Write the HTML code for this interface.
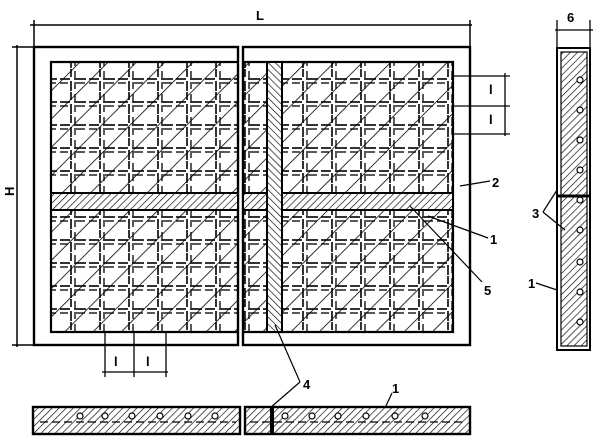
<!DOCTYPE html>
<html><head><meta charset="utf-8"><style>
html,body{margin:0;padding:0;background:#fff;}
svg{display:block;}
text{font-family:"Liberation Sans",sans-serif;font-weight:bold;font-size:13px;fill:#000;}
</style></head><body>
<svg width="605" height="446" viewBox="0 0 605 446" xmlns="http://www.w3.org/2000/svg">
<defs>
<pattern id="diag" width="20" height="20" patternUnits="userSpaceOnUse" patternTransform="rotate(45)">
<line x1="0" y1="0" x2="0" y2="20" stroke="#000" stroke-width="1.6"/>
</pattern>
<pattern id="grid" x="0" y="0" width="29" height="23" patternUnits="userSpaceOnUse">
<line x1="2" y1="10" x2="12" y2="10" stroke="#000" stroke-width="1.6"/>
<line x1="16" y1="10" x2="28" y2="10" stroke="#000" stroke-width="1.6"/>
<line x1="2" y1="14" x2="10" y2="14" stroke="#000" stroke-width="1.3"/>
<line x1="18" y1="14" x2="27" y2="14" stroke="#000" stroke-width="1.3"/>
<line x1="13" y1="0" x2="13" y2="8" stroke="#000" stroke-width="1.6"/>
<line x1="13" y1="12" x2="13" y2="22" stroke="#000" stroke-width="1.6"/>
<line x1="17" y1="2" x2="17" y2="9" stroke="#000" stroke-width="1.3"/>
<line x1="17" y1="13" x2="17" y2="20" stroke="#000" stroke-width="1.3"/>
</pattern>
<pattern id="fine" width="5" height="5" patternUnits="userSpaceOnUse" patternTransform="rotate(45)">
<line x1="0" y1="0" x2="0" y2="5" stroke="#000" stroke-width="1.3"/>
</pattern>
<pattern id="fine2" width="5" height="5" patternUnits="userSpaceOnUse" patternTransform="rotate(-45)">
<line x1="0" y1="0" x2="0" y2="5" stroke="#000" stroke-width="1.3"/>
</pattern>
</defs>
<g stroke="#000" fill="none">
<rect x="34" y="47" width="204" height="298" stroke-width="2.4"/>
<rect x="243" y="47" width="227" height="298" stroke-width="2.4"/>
<rect x="51" y="62" width="187" height="270" fill="url(#diag)" stroke="none"/>
<rect x="51" y="62" width="187" height="270" fill="url(#grid)" stroke="none"/>
<rect x="243" y="62" width="210" height="270" fill="url(#diag)" stroke="none"/>
<rect x="243" y="62" width="210" height="270" fill="url(#grid)" stroke="none"/>
<path d="M238 62 H51 V332 H238" stroke-width="2.2"/>
<path d="M243 62 H453 V332 H243" stroke-width="2.2"/>
<rect x="51" y="193" width="187" height="17" fill="#fff" stroke-width="2"/>
<rect x="51" y="193" width="187" height="17" fill="url(#fine)" stroke="none"/>
<rect x="243" y="193" width="210" height="17" fill="#fff" stroke-width="2"/>
<rect x="243" y="193" width="210" height="17" fill="url(#fine)" stroke="none"/>
<rect x="267" y="62" width="15" height="270" fill="#fff" stroke-width="2"/>
<rect x="267" y="62" width="15" height="270" fill="url(#fine2)" stroke="none"/>
<line x1="30" y1="25" x2="472" y2="25" stroke-width="1.5"/>
<line x1="34" y1="20" x2="34" y2="47" stroke-width="1.5"/>
<line x1="470" y1="20" x2="470" y2="47" stroke-width="1.5"/>
<line x1="17" y1="45" x2="17" y2="347" stroke-width="1.5"/>
<line x1="12" y1="47" x2="34" y2="47" stroke-width="1.5"/>
<line x1="12" y1="345" x2="34" y2="345" stroke-width="1.5"/>
<line x1="105" y1="332" x2="105" y2="377" stroke-width="1.3"/>
<line x1="134" y1="332" x2="134" y2="377" stroke-width="1.3"/>
<line x1="166" y1="332" x2="166" y2="377" stroke-width="1.3"/>
<line x1="102" y1="372" x2="168" y2="372" stroke-width="1.3"/>
<line x1="453" y1="76" x2="510" y2="76" stroke-width="1.3"/>
<line x1="453" y1="106" x2="510" y2="106" stroke-width="1.3"/>
<line x1="453" y1="134" x2="510" y2="134" stroke-width="1.3"/>
<line x1="505" y1="73" x2="505" y2="136" stroke-width="1.3"/>
<line x1="460" y1="186" x2="490" y2="181" stroke-width="1.2"/>
<line x1="428" y1="216" x2="488" y2="238" stroke-width="1.2"/>
<line x1="410" y1="206" x2="482" y2="282" stroke-width="1.2"/>
<line x1="275" y1="325" x2="300" y2="382" stroke-width="1.2"/>
<line x1="300" y1="382" x2="270" y2="408" stroke-width="1.2"/>
<line x1="385" y1="408" x2="392" y2="393" stroke-width="1.2"/>
<rect x="557" y="48" width="33" height="302" stroke-width="2"/>
<rect x="561" y="52" width="26" height="294" fill="url(#fine)" stroke-width="1.2"/>
<line x1="557" y1="196" x2="590" y2="196" stroke-width="3"/>
<line x1="557" y1="20" x2="557" y2="48" stroke-width="1.3"/>
<line x1="590" y1="20" x2="590" y2="48" stroke-width="1.3"/>
<line x1="555" y1="30" x2="593" y2="30" stroke-width="1.3"/>
<line x1="543" y1="212" x2="557" y2="190" stroke-width="1.2"/>
<line x1="543" y1="212" x2="565" y2="230" stroke-width="1.2"/>
<line x1="536" y1="283" x2="557" y2="290" stroke-width="1.2"/>
<g fill="#fff" stroke-width="1.2">
<circle cx="580" cy="80" r="3"/><circle cx="580" cy="110" r="3"/><circle cx="580" cy="140" r="3"/><circle cx="580" cy="170" r="3"/>
<circle cx="580" cy="200" r="3"/><circle cx="580" cy="230" r="3"/><circle cx="580" cy="262" r="3"/><circle cx="580" cy="292" r="3"/><circle cx="580" cy="322" r="3"/>
</g>
<rect x="33" y="407" width="207" height="27" stroke-width="2.4" fill="url(#fine)"/>
<rect x="245" y="407" width="225" height="27" stroke-width="2.4" fill="url(#fine)"/>
<line x1="272" y1="408" x2="272" y2="434" stroke-width="4"/>
<line x1="40" y1="422" x2="236" y2="422" stroke-width="1.2" stroke-dasharray="8,4"/>
<line x1="250" y1="422" x2="465" y2="422" stroke-width="1.2" stroke-dasharray="8,4"/>
<g fill="#fff" stroke-width="1.2">
<circle cx="80" cy="416" r="3"/><circle cx="105" cy="416" r="3"/><circle cx="132" cy="416" r="3"/><circle cx="160" cy="416" r="3"/><circle cx="188" cy="416" r="3"/><circle cx="215" cy="416" r="3"/>
<circle cx="285" cy="416" r="3"/><circle cx="312" cy="416" r="3"/><circle cx="338" cy="416" r="3"/><circle cx="366" cy="416" r="3"/><circle cx="395" cy="416" r="3"/><circle cx="425" cy="416" r="3"/>
</g>
</g>
<text x="256" y="20">L</text>
<text x="14" y="196" transform="rotate(-90 14 196)">H</text>
<text x="567" y="22">6</text>
<text x="492" y="187">2</text>
<text x="490" y="244">1</text>
<text x="484" y="295">5</text>
<text x="532" y="218">3</text>
<text x="528" y="288">1</text>
<text x="303" y="389">4</text>
<text x="392" y="393">1</text>
<text x="114" y="366">l</text>
<text x="146" y="366">l</text>
<text x="489" y="94">l</text>
<text x="489" y="124">l</text>
</svg>
</body></html>
